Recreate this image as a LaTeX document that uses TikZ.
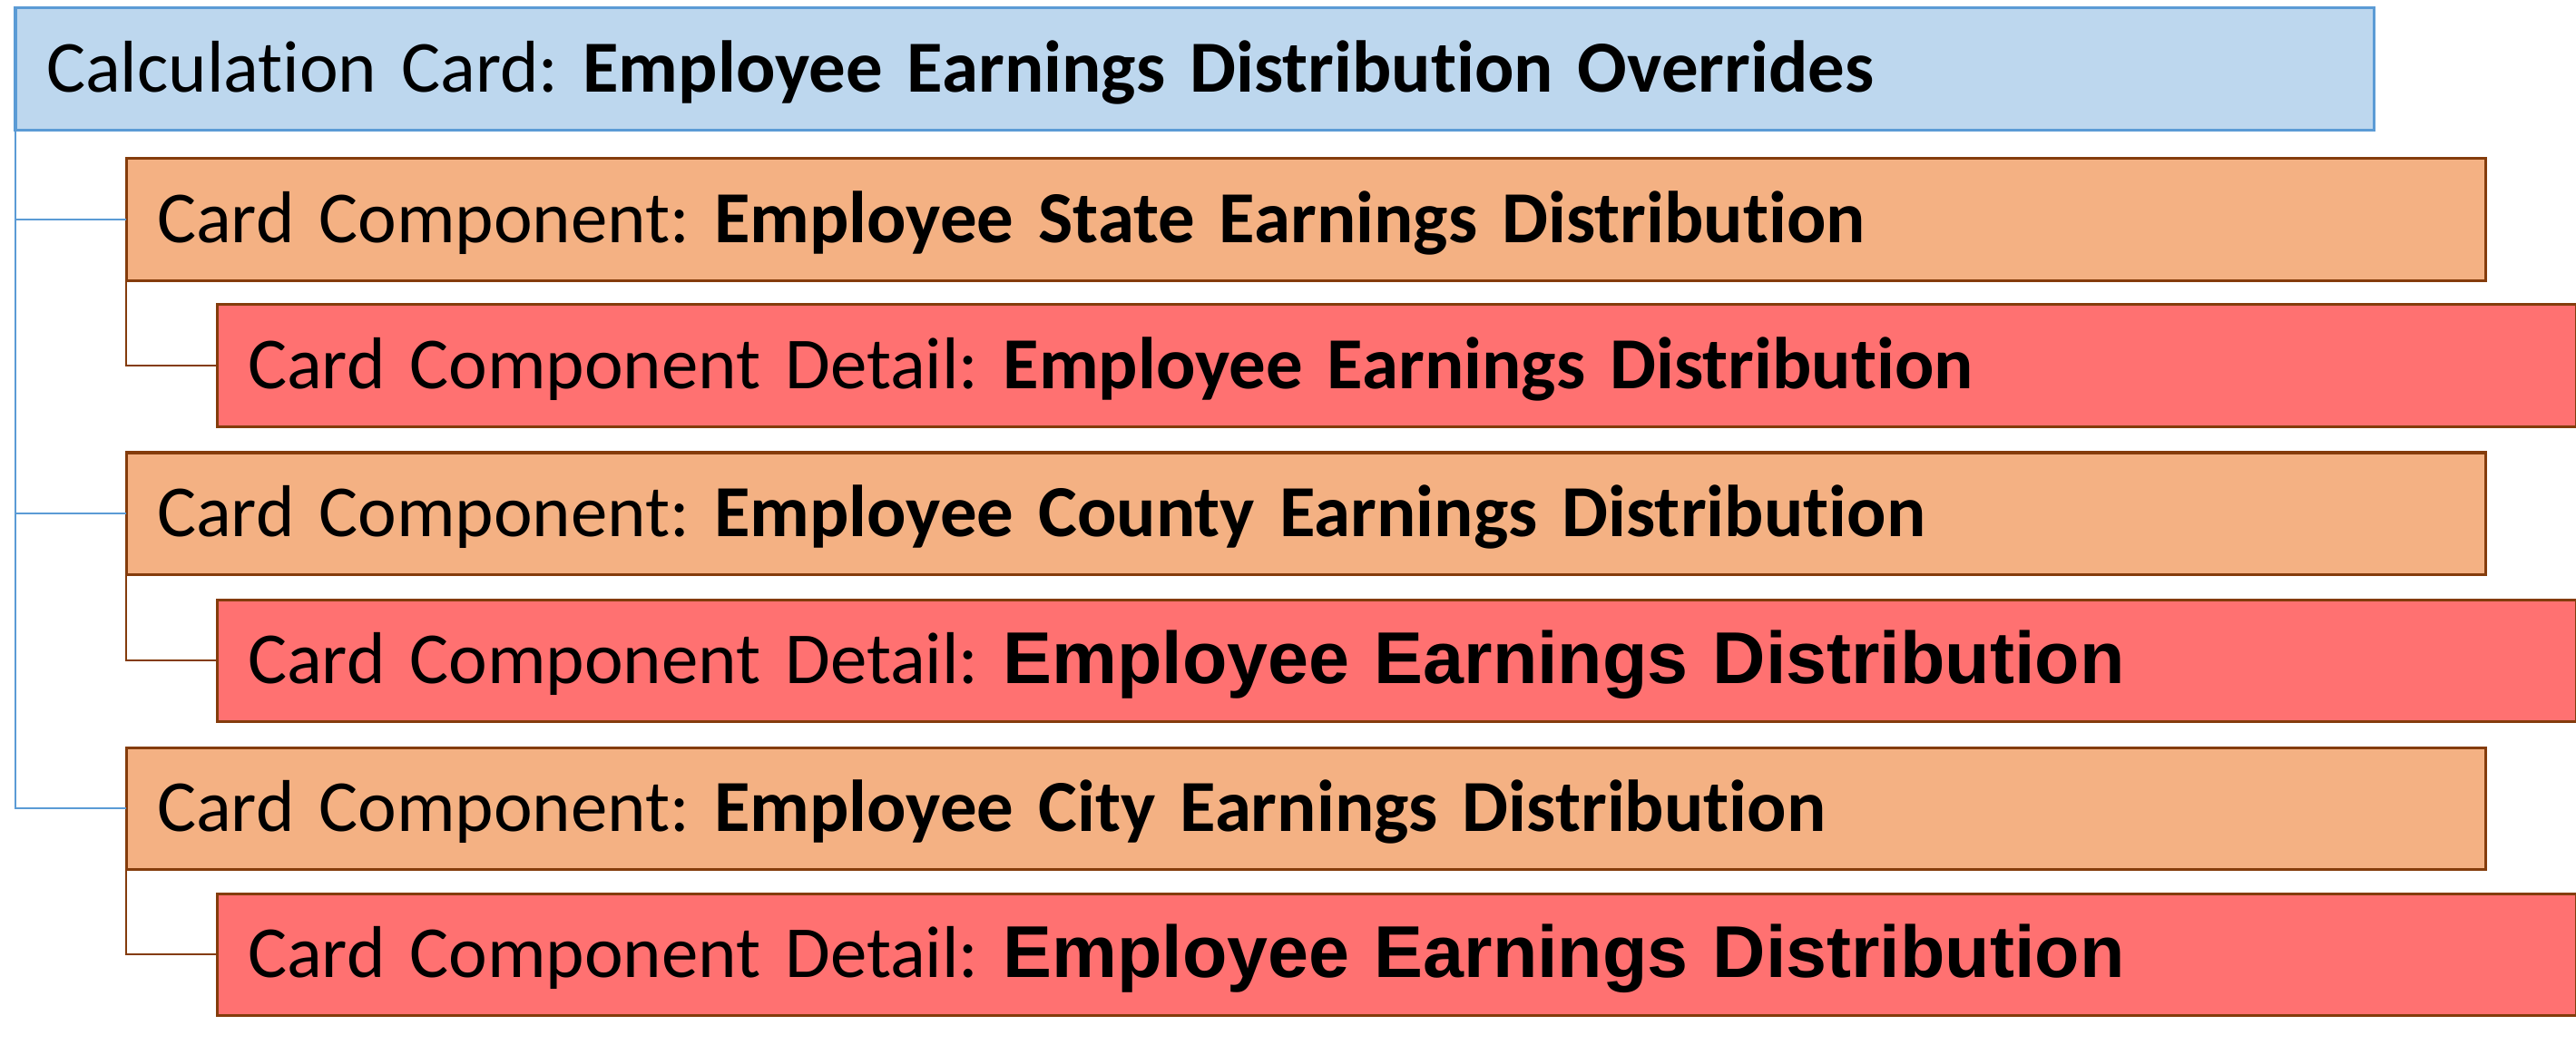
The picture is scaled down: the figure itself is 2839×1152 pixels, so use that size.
\documentclass[tikz,border=0pt]{standalone}
\usepackage{fontspec}
\setmainfont{Carlito}[Ligatures=NoCommon]
\newfontfamily\arialfont{Liberation Sans}
\frenchspacing
\definecolor{calcfill}{HTML}{BDD7EE}
\definecolor{calcedge}{HTML}{5B9BD5}
\definecolor{compfill}{HTML}{F4B183}
\definecolor{compedge}{HTML}{843C0C}
\definecolor{detfill}{HTML}{FF7171}
\tikzset{
  card/.style={anchor=north west,outer sep=0pt,inner xsep=.34cm,inner ysep=0pt,
    minimum height=1.34cm,text width=25.31cm,align=left,text height=.5cm,text depth=0pt,
    line width=.03cm,font=\fontsize{23}{27}\selectfont},
  calccard/.style={card,draw=calcedge,fill=calcfill,text width=25.30cm},
  compcard/.style={card,draw=compedge,fill=compfill},
  detcard/.style={card,draw=compedge,fill=detfill},
  calclink/.style={draw=calcedge,line width=.02cm},
  complink/.style={draw=compedge,line width=.02cm}
}
\begin{document}
\begin{tikzpicture}[x=.01cm,y=-.01cm]
\useasboundingbox(0,0)rectangle(2839,1152);
\node[calccard](calc)at(17,9){Calculation Card: \textbf{Employee Earnings Distribution Overrides}};
\node[compcard](state)at(139,175){Card Component: \textbf{Employee State Earnings Distribution}};
\node[detcard](statedet)at(239,336){Card Component Detail: \textbf{Employee Earnings Distribution}};
\node[compcard](county)at(139,499){Card Component: \textbf{Employee County Earnings Distribution}};
\node[detcard](countydet)at(239,661){Card Component Detail: {\arialfont\bfseries Employee Earnings Distribution}};
\node[compcard](city)at(139,824){Card Component: \textbf{Employee City Earnings Distribution}};
\node[detcard](citydet)at(239,985){Card Component Detail: {\arialfont\bfseries Employee Earnings Distribution}};
\draw[calclink](calc.south west)|-(state.west);
\draw[calclink](calc.south west)|-(county.west);
\draw[calclink](calc.south west)|-(city.west);
\draw[complink](state.south west)|-(statedet.west);
\draw[complink](county.south west)|-(countydet.west);
\draw[complink](city.south west)|-(citydet.west);
\end{tikzpicture}
\end{document}
